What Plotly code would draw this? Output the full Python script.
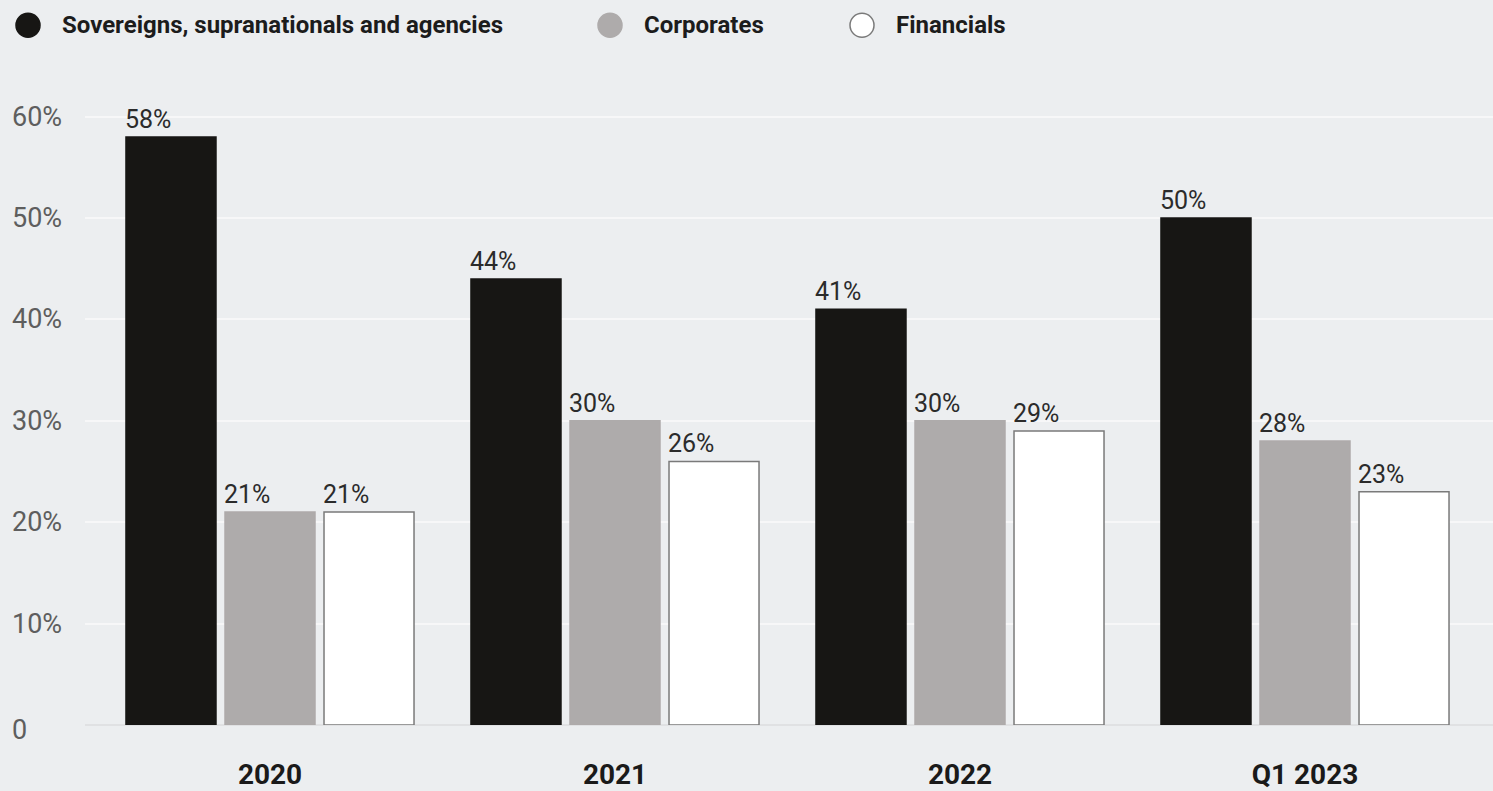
import plotly.graph_objects as go

# Share of issuance by issuer type
categories = ["2020", "2021", "2022", "Q1 2023"]
series_names = ["Sovereigns, supranationals and agencies", "Corporates", "Financials"]
sovereigns = [58, 44, 41, 50]
corporates = [21, 30, 30, 28]
financials = [21, 26, 29, 23]
y_ticks = [0, 10, 20, 30, 40, 50, 60]
y_tick_labels = ["0", "10%", "20%", "30%", "40%", "50%", "60%"]

series_values = [sovereigns, corporates, financials]
fills = ["#171614", "#aeabab", "#ffffff"]
outlines = ["#171614", "#aeabab", "#7a7a7a"]

BG = "#eceef0"
W, H = 1493, 791
ML, MR, MT, MB = 85, 0, 66, 62
plot_w = W - ML - MR
plot_h = H - MT - MB
cat_px = 345                     # pixel spacing between category centres
x_lo = -(270 - ML) / cat_px
x_hi = x_lo + plot_w / cat_px
bargap = 0.139
groupgap = 0.091
slot = cat_px * (1 - bargap) / 3
bar_w = slot * (1 - groupgap)


def px_to_paper_x(px):
    return (px - ML) / plot_w


def px_to_paper_y(py):
    return ((H - MB) - py) / plot_h


fig = go.Figure()
for name, vals, fc, lc in zip(series_names, series_values, fills, outlines):
    fig.add_trace(go.Bar(
        name=name, x=categories, y=vals,
        marker=dict(color=fc, line=dict(color=lc, width=1.5)),
        showlegend=False, hoverinfo="x+y",
    ))

# value labels, left-aligned on each bar's left edge
annotations = []
for i, vals in enumerate(series_values):
    left_off = (i - 1) * slot - bar_w / 2
    for j, v in enumerate(vals):
        annotations.append(dict(
            x=j, y=v, xref="x", yref="y", text=f"{v}%", showarrow=False,
            xanchor="left", yanchor="bottom", xshift=left_off - 3, yshift=1,
            font=dict(family="Roboto", size=25, color="#2b2b2b"),
        ))

# y tick labels, left-aligned at the page edge
for t, lab in zip(y_ticks, y_tick_labels):
    annotations.append(dict(
        x=px_to_paper_x(10), y=t, xref="paper", yref="y", text=lab,
        showarrow=False, xanchor="left", yanchor="middle",
        yshift=-5 if t == 0 else 0,
        font=dict(family="Roboto", size=27, color="#5e5e5e"),
    ))

# legend row
legend_x = [28, 610, 862]
legend_y = 25
shapes = []
for px, name, fc, lc in zip(legend_x, series_names, fills, outlines):
    r = 12
    shapes.append(dict(
        type="circle", xref="paper", yref="paper",
        x0=px_to_paper_x(px - r), x1=px_to_paper_x(px + r),
        y0=px_to_paper_y(legend_y + r), y1=px_to_paper_y(legend_y - r),
        fillcolor=fc, line=dict(color=lc if fc == "#ffffff" else fc, width=1.5),
    ))
    annotations.append(dict(
        x=px_to_paper_x(px + 32), y=px_to_paper_y(legend_y),
        xref="paper", yref="paper", text=f"<b>{name}</b>", showarrow=False,
        xanchor="left", yanchor="middle",
        font=dict(family="Roboto", size=24, color="#1c1c1c"),
    ))

fig.update_layout(
    width=W, height=H,
    margin=dict(l=ML, r=MR, t=MT, b=MB),
    paper_bgcolor=BG, plot_bgcolor=BG,
    barmode="group", bargap=bargap, bargroupgap=groupgap,
    annotations=annotations, shapes=shapes,
    xaxis=dict(
        type="category",
        range=[x_lo, x_hi], showgrid=False, zeroline=False, showline=False,
        ticks="", ticklabelstandoff=30,
        tickfont=dict(family="Roboto", size=28, color="#1a1a1a", weight="bold"),
    ),
    yaxis=dict(
        range=[0, 65], tickvals=y_ticks, showticklabels=False,
        showgrid=True, gridcolor="#f7f7f8", gridwidth=2,
        zeroline=True, zerolinecolor="#e0e1e3", zerolinewidth=2,
    ),
)

fig.write_html("out.html")
